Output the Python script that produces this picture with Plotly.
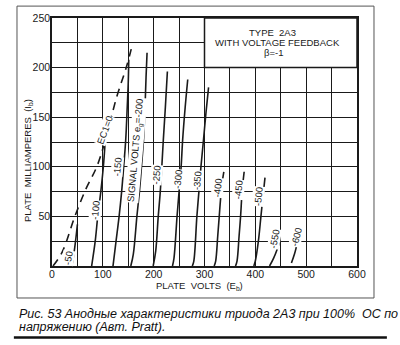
import plotly.graph_objects as go

# Ec1 = 0 boundary (dashed)
ec0_volts = [2, 20, 45, 67, 88, 105, 127, 146, 159]
ec0_ma = [0, 14, 50, 78, 100, 127, 170, 200, 225]

# Plate characteristics for each signal voltage (plate volts, plate mA)
sig_m50_volts = [39, 43, 47, 50]
sig_m50_ma = [0, 12, 28, 42]
sig_m100_volts = [78, 85, 90, 96, 101, 105]
sig_m100_ma = [0, 25, 50, 75, 100, 128]
sig_m150_volts = [120, 126, 132, 137, 141, 145, 148, 150, 151]
sig_m150_ma = [0, 25, 50, 75, 100, 127, 160, 185, 208]
sig_m200_volts = [155, 160, 167, 172, 176, 180, 183, 185, 187]
sig_m200_ma = [0, 12, 50, 75, 100, 127, 160, 190, 215]
sig_m250_volts = [199, 204, 209, 213, 216, 219, 223, 227]
sig_m250_ma = [0, 15, 50, 75, 100, 127, 160, 196]
sig_m300_volts = [237, 240, 246, 250, 254, 257, 262, 267]
sig_m300_ma = [0, 8, 50, 75, 100, 127, 160, 188]
sig_m350_volts = [276, 279, 285, 289, 293, 298, 303, 308]
sig_m350_ma = [0, 5, 50, 75, 100, 127, 155, 180]
sig_m400_volts = [319, 322, 326, 329, 332, 335, 338]
sig_m400_ma = [0, 5, 30, 50, 70, 85, 95]
sig_m450_volts = [361, 364, 368, 371, 374, 378]
sig_m450_ma = [0, 5, 30, 50, 75, 95]
sig_m500_volts = [397, 400, 406, 411, 415, 419]
sig_m500_ma = [0, 5, 25, 50, 70, 89]
sig_m550_volts = [428, 436, 443, 449]
sig_m550_ma = [0, 8, 17, 27]
sig_m600_volts = [471, 477, 483, 488]
sig_m600_ma = [3, 12, 24, 36]

signal_labels = ["-50", "-100", "-150", "SIGNAL VOLTS e<sub>g</sub>=-200", "-250", "-300",
                 "-350", "-400", "-450", "-500", "-550", "-600"]

x_ticks = [0, 100, 200, 300, 400, 500, 600]
y_ticks = [50, 100, 150, 200, 250]

curves = [
    (sig_m50_volts, sig_m50_ma), (sig_m100_volts, sig_m100_ma),
    (sig_m150_volts, sig_m150_ma), (sig_m200_volts, sig_m200_ma),
    (sig_m250_volts, sig_m250_ma), (sig_m300_volts, sig_m300_ma),
    (sig_m350_volts, sig_m350_ma), (sig_m400_volts, sig_m400_ma),
    (sig_m450_volts, sig_m450_ma), (sig_m500_volts, sig_m500_ma),
    (sig_m550_volts, sig_m550_ma), (sig_m600_volts, sig_m600_ma),
]

# where each curve label sits (volts, mA) and its rotation
label_spots = [(31, 8, -80), (85, 56, -85), (129, 100, -85), (166, 117, -85),
               (206, 92, -85), (248, 87, -85), (286, 86, -85), (326, 79, -85),
               (367, 77, -85), (406, 70, -85), (437, 27, -80), (480, 29, -75)]

ink = "#1a1a1a"
fig = go.Figure()

fig.add_trace(go.Scatter(x=ec0_volts, y=ec0_ma, mode="lines",
                         line=dict(color=ink, width=1.6, dash="8px,6px"),
                         line_shape="spline", showlegend=False, hoverinfo="skip"))
for vx, my in curves:
    fig.add_trace(go.Scatter(x=vx, y=my, mode="lines", line=dict(color=ink, width=1.6),
                             line_shape="spline", showlegend=False, hoverinfo="skip"))

lab_font = dict(family="Liberation Sans", size=9.5, color=ink)
for text, (lx, ly, ang) in zip(signal_labels, label_spots):
    fig.add_annotation(x=lx, y=ly, text=text, showarrow=False, textangle=ang,
                       font=lab_font, bgcolor="white", borderpad=0)

fig.add_annotation(x=103, y=137, text="EC1=0", showarrow=False, textangle=-70,
                   font=lab_font, bgcolor="white", borderpad=0)

# title panel in the upper right corner of the grid
fig.add_shape(type="rect", x0=300, x1=600, y0=200, y1=250, xref="x", yref="y",
              fillcolor="white", line=dict(color=ink, width=1.5), layer="above")
box_font = dict(family="Liberation Sans", size=9.5, color=ink)
fig.add_annotation(x=433, y=235, text="TYPE  2A3", showarrow=False, font=box_font)
fig.add_annotation(x=443, y=225, text="WITH VOLTAGE FEEDBACK", showarrow=False, font=box_font)
fig.add_annotation(x=435, y=215, text="β=-1", showarrow=False, font=box_font)

# axis titles
title_font = dict(family="Liberation Sans", size=9.5, color=ink)
fig.add_annotation(x=-0.079, y=0.427, xref="paper", yref="paper",
                   xanchor="center", yanchor="middle",
                   text="PLATE  MILLIAMPERES  (I<sub>b</sub>)", textangle=-90,
                   showarrow=False, font=title_font)
fig.add_annotation(x=0.485, y=-0.079, xref="paper", yref="paper",
                   xanchor="center", yanchor="middle",
                   text="PLATE  VOLTS  (E<sub>b</sub>)", showarrow=False, font=title_font)

# outer frame round the chart
fig.add_shape(type="rect", xref="paper", yref="paper", x0=-0.1148, x1=1.0557,
              y0=-0.129, y1=1.048, line=dict(color="#555", width=1))

# caption below
cap_font = dict(family="Liberation Sans", size=12.5, color="#111", style="italic")
fig.add_annotation(x=-0.115, y=-0.194, xref="paper", yref="paper",
                   xanchor="left", yanchor="middle",
                   text="Рис. 53 Анодные характеристики триода 2А3 при 100%  ОС по",
                   showarrow=False, font=cap_font)
fig.add_annotation(x=-0.115, y=-0.246, xref="paper", yref="paper",
                   xanchor="left", yanchor="middle",
                   text="напряжению (Авт. Pratt).", showarrow=False, font=cap_font)
fig.add_shape(type="line", xref="paper", yref="paper", x0=-0.125, x1=1.098,
              y0=-0.288, y1=-0.288, line=dict(color="#111", width=2.5))

axis_common = dict(showline=True, mirror=True, linecolor=ink, linewidth=1.6,
                   showgrid=True, gridcolor=ink, gridwidth=1.3, zeroline=False,
                   ticks="", ticklabelstandoff=-2,
                   tickfont=dict(family="Liberation Sans", size=10.5, color=ink))
fig.update_xaxes(range=[0, 600], tickmode="array", tickvals=x_ticks,
                 minor=dict(tick0=0, dtick=50, showgrid=True, gridcolor=ink, gridwidth=1.3),
                 **axis_common)
fig.update_yaxes(range=[0, 250], tickmode="array", tickvals=y_ticks,
                 minor=dict(tick0=0, dtick=25, showgrid=True, gridcolor=ink, gridwidth=1.3),
                 **axis_common)

fig.update_layout(width=400, height=345, margin=dict(l=52, r=43, t=18, b=79),
                  paper_bgcolor="white", plot_bgcolor="white")

fig.write_html("out.html")
